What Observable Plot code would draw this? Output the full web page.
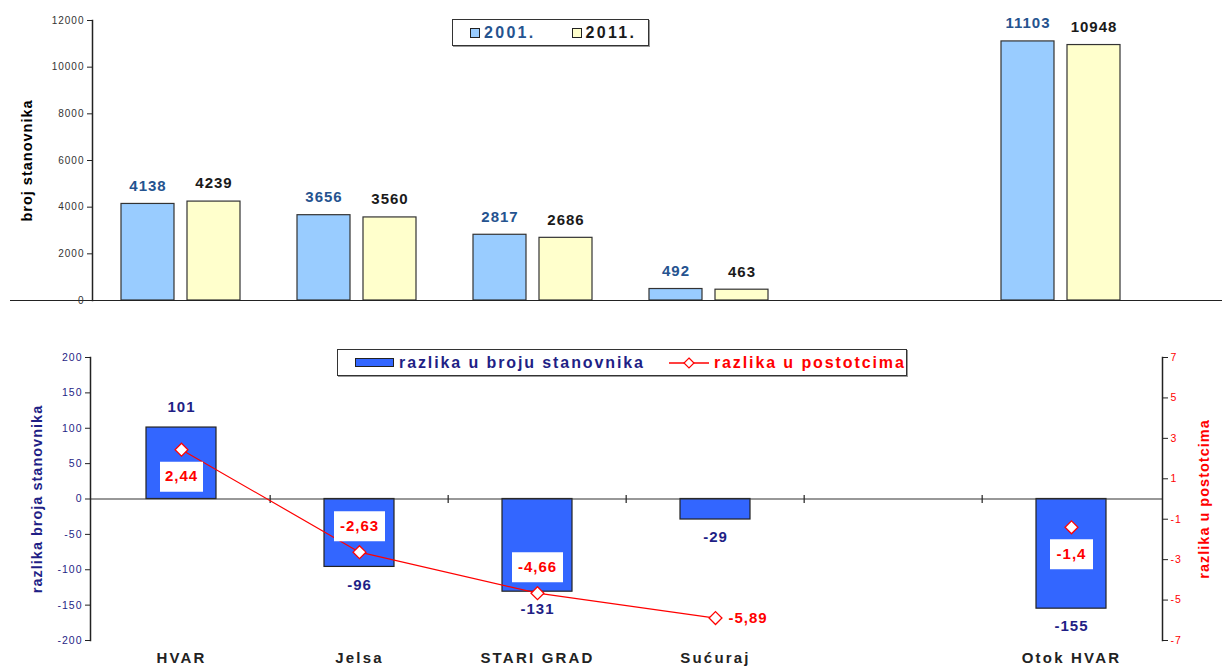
<!DOCTYPE html>
<html>
<head>
<meta charset="utf-8">
<script src="https://cdn.jsdelivr.net/npm/d3@7"></script>
<script src="https://cdn.jsdelivr.net/npm/@observablehq/plot@0.6"></script>
<style>
  body { margin: 0; background: #fff; font-family: "Liberation Sans", Arial, sans-serif; }
  #wrap { position: relative; width: 1222px; height: 672px; overflow: hidden; }
  #topChart, #bottomChart { position: absolute; left: 0; }
  #topChart { top: 0; }
  #bottomChart { top: 310px; }
  .legend { position: absolute; box-sizing: border-box; border: 1px solid #333; background: #fff;
            box-shadow: 1px 1px 0 #999; font-weight: bold; display: flex; align-items: center;
            font-family: "Liberation Sans", Arial, sans-serif; white-space: nowrap; }
  .sw { display: inline-block; box-sizing: border-box; border: 1px solid #222; }
  svg.chart text { letter-spacing: 1px; }
  svg.chart g[aria-label="x-axis tick label"] text { letter-spacing: 2.2px; }
</style>
</head>
<body>
<div id="wrap">
  <div id="topChart"></div>
  <div id="bottomChart"></div>
  <div class="legend" id="leg1" style="left:452px;top:19px;width:197px;height:27px;font-size:16px;letter-spacing:2.3px;"></div>
  <div class="legend" id="leg2" style="left:337px;top:349px;width:570px;height:27px;font-size:16px;letter-spacing:1.9px;"></div>
</div>
<script>
// ---------- data ----------
const categories = ["HVAR", "Jelsa", "STARI GRAD", "Sućuraj", "", "Otok HVAR"];
const years = ["2001.", "2011."];
const pop2001 = [4138, 3656, 2817, 492, null, 11103];
const pop2011 = [4239, 3560, 2686, 463, null, 10948];
const diffPeople = [101, -96, -131, -29, null, -155];
const diffPercent = [2.44, -2.63, -4.66, -5.89, null, -1.4];
const percentLabelSide = ["below", "above", "above", "right", null, "below"];
const popTicks = [0, 2000, 4000, 6000, 8000, 10000, 12000];
const diffTicks = [-200, -150, -100, -50, 0, 50, 100, 150, 200];
const percentTicks = [-7, -5, -3, -1, 1, 3, 5, 7];
const seriesNames = ["razlika u broju stanovnika", "razlika u postotcima"];
const titles = { top: "broj stanovnika", left: "razlika broja stanovnika", right: "razlika u postotcima" };

// ---------- styles ----------
const c2001 = "#99ccff", c2011 = "#ffffcc", cDiff = "#3366ff";
const navy = "#1f1f86", red = "#ff0000", lab2001 = "#25538f", lab2011 = "#1a1a1a";
const font = "Liberation Sans, Arial, sans-serif";
const k = 200 / 7; // percent -> left-axis units

const rows2001 = categories.map((c, i) => ({cat: c, v: pop2001[i]})).filter(d => d.v != null);
const rows2011 = categories.map((c, i) => ({cat: c, v: pop2011[i]})).filter(d => d.v != null);
const diffRows = categories.map((c, i) => ({cat: c, v: diffPeople[i]})).filter(d => d.v != null);
const pctRows = categories.map((c, i) => ({cat: c, p: diffPercent[i], side: percentLabelSide[i]}));
const pctDefined = pctRows.filter(d => d.p != null);
const fmtPct = d => String(d.p).replace(".", ",");

const rectSymbol = (w, h) => ({ draw(ctx) { ctx.rect(-w / 2, -h / 2, w, h); } });
const vTick = { draw(ctx) { ctx.moveTo(0, -4); ctx.lineTo(0, 4); } };

// ---------- top chart ----------
const topChart = Plot.plot({
  width: 1222, height: 310,
  marginLeft: 92, marginRight: 71, marginTop: 20, marginBottom: 10,
  className: "chart",
  style: { fontFamily: font, background: "transparent" },
  x: { type: "band", domain: categories, paddingInner: 0.7, paddingOuter: 0.35, axis: null },
  y: { domain: [0, 12000], axis: null },
  marks: [
    Plot.barY(rows2001, { x: "cat", y: "v", dx: -34, fill: c2001, stroke: "#333", strokeWidth: 1.2 }),
    Plot.barY(rows2011, { x: "cat", y: "v", dx: 32, fill: c2011, stroke: "#333", strokeWidth: 1.2 }),
    Plot.text(rows2001, { x: "cat", y: "v", dx: -34, dy: -18, text: d => String(d.v), fill: lab2001, fontSize: 15, fontWeight: "bold" }),
    Plot.text(rows2011, { x: "cat", y: "v", dx: 32, dy: -18, text: d => String(d.v), fill: lab2011, fontSize: 15, fontWeight: "bold" }),
    Plot.ruleY([0], { stroke: "#222", strokeWidth: 1.2, insetLeft: -82, insetRight: -71 }),
    Plot.axisY({ ticks: popTicks, tickFormat: d => String(d), tickSize: 5, tickPadding: 3, fontSize: 10, stroke: "#222", fill: "#333", label: null }),
    Plot.frame({ anchor: "left", stroke: "#222", strokeWidth: 1.5 }),
    Plot.text([titles.top], { text: d => d, frameAnchor: "left", textAnchor: "middle", dx: -65, rotate: -90, fontSize: 14.5, fontWeight: "bold", fill: "#000" })
  ]
});
document.getElementById("topChart").appendChild(topChart);

// ---------- bottom chart ----------
const bottomChart = Plot.plot({
  width: 1222, height: 362,
  marginLeft: 90, marginRight: 60, marginTop: 47, marginBottom: 32,
  className: "chart",
  style: { fontFamily: font, background: "transparent" },
  x: { type: "band", domain: categories, paddingInner: 0.608, paddingOuter: 0.304 },
  y: { domain: [-200, 200], axis: null },
  marks: [
    Plot.barY(diffRows, { x: "cat", y: "v", fill: cDiff, stroke: "#222", strokeWidth: 1.2 }),
    Plot.ruleY([0], { stroke: "#333", strokeWidth: 1.2 }),
    Plot.dot(categories.slice(1), { x: d => d, y: () => 0, dx: -89.33, symbol: vTick, stroke: "#222", strokeWidth: 1.2, r: 4 }),
    Plot.text(diffRows.filter(d => d.v > 0), { x: "cat", y: "v", dy: -20, text: d => String(d.v), fill: navy, fontSize: 15, fontWeight: "bold" }),
    Plot.text(diffRows.filter(d => d.v < 0), { x: "cat", y: "v", dy: 18, text: d => String(d.v), fill: navy, fontSize: 15, fontWeight: "bold" }),
    Plot.line(pctRows, { x: "cat", y: d => d.p == null ? NaN : d.p * k, stroke: red, strokeWidth: 1.2 }),
    Plot.dot(pctDefined, { x: "cat", y: d => d.p * k, symbol: "diamond2", r: 5.8, fill: "white", stroke: red, strokeWidth: 1.3 }),
    // label boxes
    Plot.dot(pctDefined.filter(d => d.side === "below"), { x: "cat", y: d => d.p * k, dy: 27, symbol: rectSymbol(43, 30), r: 5, fill: "white" }),
    Plot.dot(pctDefined.filter(d => d.side === "above"), { x: "cat", y: d => d.p * k, dy: -26, symbol: rectSymbol(51, 30), r: 5, fill: "white" }),
    Plot.text(pctDefined.filter(d => d.side === "below"), { x: "cat", y: d => d.p * k, dy: 27, text: fmtPct, fill: red, fontSize: 15, fontWeight: "bold" }),
    Plot.text(pctDefined.filter(d => d.side === "above"), { x: "cat", y: d => d.p * k, dy: -26, text: fmtPct, fill: red, fontSize: 15, fontWeight: "bold" }),
    Plot.text(pctDefined.filter(d => d.side === "right"), { x: "cat", y: d => d.p * k, dx: 13, textAnchor: "start", text: fmtPct, fill: red, fontSize: 15, fontWeight: "bold" }),
    // axes
    Plot.axisY({ anchor: "left", ticks: diffTicks, tickFormat: d => String(d), tickSize: 5, tickPadding: 3, fontSize: 10.5, stroke: "#222", fill: navy, label: null }),
    Plot.axisY({ anchor: "right", ticks: percentTicks.map(v => v * k), tickFormat: v => String(Math.round(v / k)), tickSize: 5, tickPadding: 3, fontSize: 10.5, stroke: "#222", fill: red, label: null }),
    Plot.axisX({ anchor: "bottom", tickSize: 0, tickPadding: 12, fontSize: 15, fontWeight: "bold", fill: "#222", label: null, tickFormat: d => d }),
    Plot.frame({ anchor: "left", stroke: "#222", strokeWidth: 1.5 }),
    Plot.frame({ anchor: "right", stroke: "#222", strokeWidth: 1.5 }),
    Plot.text([titles.left], { text: d => d, frameAnchor: "left", textAnchor: "middle", dx: -53, rotate: -90, fontSize: 14.5, fontWeight: "bold", fill: navy }),
    Plot.text([titles.right], { text: d => d, frameAnchor: "right", textAnchor: "middle", dx: 42, rotate: -90, fontSize: 14.5, fontWeight: "bold", fill: red })
  ]
});
document.getElementById("bottomChart").appendChild(bottomChart);

// ---------- legends ----------
const leg1 = document.getElementById("leg1");
const yearColors = [[c2001, lab2001], [c2011, lab2011]];
years.forEach((y, i) => {
  const sw = document.createElement("span");
  sw.className = "sw";
  sw.style.cssText = `width:10px;height:10px;background:${yearColors[i][0]};margin-left:${i === 0 ? 17 : 36}px;`;
  const t = document.createElement("span");
  t.textContent = y;
  t.style.cssText = `color:${yearColors[i][1]};margin-left:4px;`;
  leg1.append(sw, t);
});

const leg2 = document.getElementById("leg2");
const sw1 = document.createElement("span");
sw1.className = "sw";
sw1.style.cssText = `width:39px;height:9px;background:${cDiff};margin-left:17px;`;
const t1 = document.createElement("span");
t1.textContent = seriesNames[0];
t1.style.cssText = `color:${navy};margin-left:5px;`;
const ns = "http://www.w3.org/2000/svg";
const sw2 = document.createElementNS(ns, "svg");
sw2.setAttribute("width", "40"); sw2.setAttribute("height", "14");
sw2.style.marginLeft = "24px";
const ln = document.createElementNS(ns, "line");
ln.setAttribute("x1", 0); ln.setAttribute("x2", 40); ln.setAttribute("y1", 7); ln.setAttribute("y2", 7);
ln.setAttribute("stroke", red); ln.setAttribute("stroke-width", 1.3);
const dm = document.createElementNS(ns, "path");
dm.setAttribute("d", "M20,2L25,7L20,12L15,7Z");
dm.setAttribute("fill", "white"); dm.setAttribute("stroke", red); dm.setAttribute("stroke-width", 1.2);
sw2.append(ln, dm);
const t2 = document.createElement("span");
t2.textContent = seriesNames[1];
t2.style.cssText = `color:${red};margin-left:5px;`;
leg2.append(sw1, t1, sw2, t2);
</script>
</body>
</html>
